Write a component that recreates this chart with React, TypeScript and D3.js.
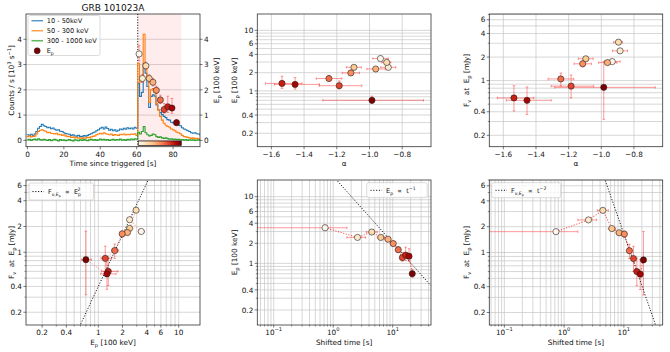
import React, { useEffect, useRef } from 'react';
import * as d3 from 'd3';

// light curves, 1 s bins (10^3 counts / s)
const softCounts = [
  0.22, 0.2, 0.24, 0.18, 0.25, 0.35, 0.48, 0.55, 0.64, 0.58,
  0.55, 0.5, 0.52, 0.46, 0.49, 0.44, 0.4, 0.42, 0.36, 0.35,
  0.3, 0.27, 0.25, 0.24, 0.2, 0.22, 0.18, 0.17, 0.2, 0.16,
  0.15, 0.19, 0.17, 0.2, 0.23, 0.26, 0.3, 0.33, 0.38, 0.42,
  0.48, 0.52, 0.45, 0.53, 0.47, 0.4, 0.44, 0.38, 0.42, 0.36,
  0.4, 0.45, 0.42, 0.48, 0.44, 0.5, 0.46, 0.49, 0.45, 0.52,
  0.48, 2.26, 1.74, 1.9, 3.05, 2.66, 2.13, 1.3, 1.74, 1.8,
  1.75, 1.4, 1.2, 1.1, 1.02, 0.95, 0.9, 0.82, 0.8, 0.72,
  0.7, 0.66, 0.63, 0.6, 0.58, 0.5, 0.45, 0.42, 0.38, 0.35,
  0.3, 0.28, 0.3, 0.26, 0.25, 0.22,
];
const midCounts = [
  0.15, 0.18, 0.14, 0.16, 0.17, 0.25, 0.35, 0.4, 0.42, 0.38,
  0.36, 0.3, 0.32, 0.28, 0.27, 0.25, 0.28, 0.22, 0.24, 0.2,
  0.22, 0.18, 0.15, 0.16, 0.12, 0.13, 0.1, 0.12, 0.09, 0.1,
  0.08, 0.1, 0.09, 0.12, 0.11, 0.14, 0.16, 0.18, 0.22, 0.25,
  0.28, 0.25, 0.3, 0.26, 0.24, 0.22, 0.25, 0.2, 0.23, 0.21,
  0.2, 0.24, 0.22, 0.25, 0.21, 0.24, 0.22, 0.25, 0.23, 0.26,
  0.2, 3.05, 2.3, 2.5, 4.2, 3.0, 2.5, 1.5, 2.0, 2.05,
  1.9, 1.47, 1.2, 0.95, 0.8, 0.68, 0.6, 0.55, 0.52, 0.45,
  0.42, 0.38, 0.32, 0.3, 0.26, 0.2, 0.15, 0.14, 0.12, 0.1,
  0.08, 0.1, 0.07, 0.08, 0.06, 0.05,
];
const hardCounts = [
  0.02, 0.04, 0.0, 0.03, 0.05, 0.02, 0.06, 0.03, 0.01, 0.04,
  0.02, 0.0, 0.03, -0.01, 0.02, 0.04, 0.01, -0.02, 0.03, 0.0,
  0.02, -0.01, 0.01, 0.03, 0.0, -0.02, 0.02, 0.01, -0.01, 0.02,
  0.0, 0.03, 0.01, -0.01, 0.02, 0.04, 0.01, 0.03, 0.0, 0.02,
  0.05, 0.02, 0.04, 0.01, 0.03, 0.0, 0.02, 0.04, 0.01, 0.03,
  0.02, 0.05, 0.01, 0.03, 0.0, 0.04, 0.02, 0.05, 0.03, 0.06,
  0.05, 0.32, 0.25, 0.35, 0.55, 0.3, 0.22, 0.18, 0.2, 0.25,
  0.22, 0.15, 0.12, 0.14, 0.1, 0.08, 0.1, 0.07, 0.05, 0.06,
  0.04, 0.05, 0.03, 0.04, 0.02, 0.03, 0.01, 0.03, 0.0, 0.02,
  0.01, 0.02, 0.0, 0.01, 0.02, 0.01,
];
const bandLabels = ['10 - 50keV', '50 - 300 keV', '300 - 1000 keV'];
const bandColors = ['#1f77b4', '#ff7f0e', '#2ca02c'];
const lcStart = -0.4;

// time-resolved spectral fits
const triggerShift = 60.6;
const shadeEnd = 84.5;
const shiftedTime = [0.73, 2.56, 4.45, 6.3, 8.35, 10.2, 12.4, 14.5, 16.5, 18.8, 21.3];
const timeLo = [0.001, 1.7, 3.6, 5.5, 7.4, 9.3, 11.3, 13.5, 15.5, 17.7, 20.2];
const timeHi = [1.7, 3.5, 5.5, 7.3, 9.3, 11.2, 13.5, 15.5, 17.5, 20.0, 22.5];
const epValues = [3.42, 2.45, 2.95, 2.45, 2.3, 1.98, 1.6, 1.22, 1.33, 1.28, 0.7];
const epLo = [3.15, 2.3, 2.8, 2.3, 2.15, 1.85, 1.46, 1.08, 1.1, 1.07, 0.62];
const epHi = [3.75, 2.6, 3.1, 2.6, 2.45, 2.15, 1.79, 1.46, 1.75, 1.66, 0.82];
const alphaValues = [-0.933, -0.885, -0.895, -1.095, -0.962, -1.114, -1.248, -1.185, -1.535, -1.455, -0.985];
const alphaLo = [-0.98, -0.931, -0.925, -1.14, -1.016, -1.167, -1.326, -1.307, -1.637, -1.582, -1.285];
const alphaHi = [-0.885, -0.839, -0.87, -1.05, -0.904, -1.061, -1.169, -1.047, -1.413, -1.307, -0.67];
const fluxValues = [1.75, 2.4, 3.1, 1.9, 1.7, 1.64, 1.05, 0.85, 0.6, 0.56, 0.82];
const fluxLo = [1.68, 2.3, 2.98, 1.8, 1.6, 1.5, 0.85, 0.6, 0.41, 0.37, 0.32];
const fluxHi = [1.83, 2.5, 3.25, 2.0, 1.8, 1.78, 1.25, 1.18, 0.86, 0.83, 1.76];

// reference power laws
const epFluxNorm = 0.4; // F = A Ep^2
const epTimeNorm = 20.3; // Ep = A / t
const fluxTimeNorm = 165; // F = A / t^2

const logLabels = [0.2, 0.4, 1, 2, 4, 6, 10];

const FONT = "'DejaVu Sans', sans-serif";
const FS = 7.3;
const LFS = 6.6;
const GRID = '#c6c6c6';
const ERR = 'rgba(255,30,30,0.5)';

type Seg = { t: string; s?: number; b?: number; dx?: number };
type Box = { l: number; t: number; w: number; h: number };
type Sel = d3.Selection<any, unknown, null, undefined>;

const mkBox = (l: number, t: number, r: number, b: number): Box => ({ l, t, w: r - l, h: b - t });
const boxLc = mkBox(26, 14, 200, 146.7);
const boxAlphaEp = mkBox(257.3, 14, 431, 146.7);
const boxAlphaF = mkBox(489.3, 14, 662.7, 146.7);
const boxEpF = mkBox(26, 180, 200, 325);
const boxTimeEp = mkBox(257.3, 180, 431, 325);
const boxTimeF = mkBox(489.3, 180, 662.7, 325);

const col = (i: number) => d3.interpolateOrRd(i / (epValues.length - 1));

function text(g: Sel, x: number, y: number, segs: Seg[], size: number, anchor = 'middle', rotate = 0) {
  const t = g
    .append('text')
    .attr('x', x)
    .attr('y', y)
    .attr('font-family', FONT)
    .attr('font-size', size)
    .attr('fill', '#111')
    .attr('text-anchor', anchor)
    .style('white-space', 'pre');
  if (rotate) t.attr('transform', `rotate(${rotate},${x},${y})`);
  segs.forEach((s) => {
    const ts = t.append('tspan').text(s.t);
    if (s.s) ts.attr('font-size', size * s.s);
    if (s.b) ts.attr('baseline-shift', `${s.b}px`);
    if (s.dx) ts.attr('dx', s.dx);
  });
  return t;
}

function logSteps(lo: number, hi: number) {
  const out: number[] = [];
  for (let d = Math.floor(Math.log10(lo)); d <= Math.ceil(Math.log10(hi)); d++) {
    for (let k = 1; k < 10; k++) {
      const v = +(k * Math.pow(10, d)).toPrecision(3);
      if (v >= lo && v <= hi) out.push(v);
    }
  }
  return out;
}

const plain = (v: number): Seg[] => [{ t: String(v) }];
const linFmt = (v: number): Seg[] => [{ t: d3.format('.1f')(v) }];
const powFmt = (v: number): Seg[] => [{ t: '10' }, { t: d3.format('d')(Math.round(Math.log10(v))), s: 0.7, b: 3.6 }];

function gridLines(g: Sel, b: Box, sx: any, sy: any, xs: number[], ys: number[]) {
  xs.forEach((v) =>
    g.append('line').attr('x1', sx(v)).attr('x2', sx(v)).attr('y1', b.t).attr('y2', b.t + b.h)
      .attr('stroke', GRID).attr('stroke-width', 0.7)
  );
  ys.forEach((v) =>
    g.append('line').attr('x1', b.l).attr('x2', b.l + b.w).attr('y1', sy(v)).attr('y2', sy(v))
      .attr('stroke', GRID).attr('stroke-width', 0.7)
  );
}

function xAxis(g: Sel, b: Box, sx: any, major: number[], fmt: (v: number) => Seg[], minor: number[] = []) {
  const y0 = b.t + b.h;
  minor.forEach((v) =>
    g.append('line').attr('x1', sx(v)).attr('x2', sx(v)).attr('y1', y0).attr('y2', y0 + 1.5)
      .attr('stroke', '#222').attr('stroke-width', 0.5)
  );
  major.forEach((v) => {
    g.append('line').attr('x1', sx(v)).attr('x2', sx(v)).attr('y1', y0).attr('y2', y0 + 2.6)
      .attr('stroke', '#222').attr('stroke-width', 0.6);
    text(g, sx(v), y0 + 10.2, fmt(v), FS);
  });
}

function yAxis(g: Sel, b: Box, sy: any, major: number[], fmt: (v: number) => Seg[], minor: number[] = [], right = false) {
  const x0 = right ? b.l + b.w : b.l;
  const d = right ? 1 : -1;
  minor.forEach((v) =>
    g.append('line').attr('x1', x0).attr('x2', x0 + d * 1.5).attr('y1', sy(v)).attr('y2', sy(v))
      .attr('stroke', '#222').attr('stroke-width', 0.5)
  );
  major.forEach((v) => {
    g.append('line').attr('x1', x0).attr('x2', x0 + d * 2.6).attr('y1', sy(v)).attr('y2', sy(v))
      .attr('stroke', '#222').attr('stroke-width', 0.6);
    text(g, x0 + d * 4, sy(v) + 2.7, fmt(v), FS, right ? 'start' : 'end');
  });
}

function frame(g: Sel, b: Box) {
  g.append('rect').attr('x', b.l).attr('y', b.t).attr('width', b.w).attr('height', b.h)
    .attr('fill', 'none').attr('stroke', '#333').attr('stroke-width', 0.8);
}

function clip(svg: Sel, id: string, b: Box) {
  svg.append('clipPath').attr('id', id).append('rect')
    .attr('x', b.l).attr('y', b.t).attr('width', b.w).attr('height', b.h);
}

function errorBars(g: Sel, sx: any, sy: any, xs: number[], ys: number[], xlo: number[] | null, xhi: number[] | null, ylo: number[] | null, yhi: number[] | null) {
  const cap = 1.3;
  xs.forEach((xv, i) => {
    const x = sx(xv);
    const y = sy(ys[i]);
    if (xlo && xhi) {
      const a = sx(xlo[i]);
      const c = sx(xhi[i]);
      g.append('line').attr('x1', a).attr('x2', c).attr('y1', y).attr('y2', y).attr('stroke', ERR).attr('stroke-width', 0.9);
      [a, c].forEach((e) =>
        g.append('line').attr('x1', e).attr('x2', e).attr('y1', y - cap).attr('y2', y + cap).attr('stroke', ERR).attr('stroke-width', 0.9)
      );
    }
    if (ylo && yhi) {
      const a = sy(ylo[i]);
      const c = sy(yhi[i]);
      g.append('line').attr('x1', x).attr('x2', x).attr('y1', a).attr('y2', c).attr('stroke', ERR).attr('stroke-width', 0.9);
      [a, c].forEach((e) =>
        g.append('line').attr('x1', x - cap).attr('x2', x + cap).attr('y1', e).attr('y2', e).attr('stroke', ERR).attr('stroke-width', 0.9)
      );
    }
  });
}

function markers(g: Sel, sx: any, sy: any, xs: number[], ys: number[]) {
  xs.forEach((xv, i) =>
    g.append('circle').attr('cx', sx(xv)).attr('cy', sy(ys[i])).attr('r', 3.1)
      .attr('fill', col(i)).attr('stroke', '#222').attr('stroke-width', 0.6)
  );
}

function connect(g: Sel, sx: any, sy: any, xs: number[], ys: number[], opacity: number) {
  const line = d3.line<number>().x((d, i) => sx(xs[i])).y((d, i) => sy(ys[i]));
  g.append('path').attr('d', line(xs)).attr('fill', 'none').attr('stroke', 'red')
    .attr('stroke-width', 1.1).attr('stroke-dasharray', '1.1,1.6').attr('opacity', opacity);
}

function modelLine(g: Sel, sx: any, sy: any, f: (x: number) => number) {
  const [a, c] = sx.domain();
  const pts = [a, c].map((x: number) => [sx(x), sy(f(x))]);
  g.append('path').attr('d', d3.line()(pts as [number, number][])).attr('fill', 'none')
    .attr('stroke', '#111').attr('stroke-width', 1).attr('stroke-dasharray', '1.1,1.7');
}

function legendBox(g: Sel, x: number, y: number, w: number, h: number) {
  g.append('rect').attr('x', x).attr('y', y).attr('width', w).attr('height', h).attr('rx', 2)
    .attr('fill', 'white').attr('fill-opacity', 0.8).attr('stroke', '#cccccc').attr('stroke-width', 0.7);
}

const epLabel: Seg[] = [{ t: 'E' }, { t: 'p', s: 0.7, b: -1.8 }, { t: ' [100 keV]' }];
const fluxLabel: Seg[] = [{ t: 'F' }, { t: 'ν', s: 0.7, b: -1.8 }, { t: '  at  E' }, { t: 'p', s: 0.7, b: -1.8 }, { t: ' [mJy]' }];
const fluxSub: Seg[] = [{ t: 'F' }, { t: 'ν,E', s: 0.7, b: -1.8 }, { t: 'p', s: 0.5, b: -3 }];

export default function App() {
  const ref = useRef<SVGSVGElement>(null);

  useEffect(() => {
    const svg = d3.select(ref.current) as Sel;
    svg.selectAll('*').remove();
    const defs = svg.append('defs');
    [['c-lc', boxLc], ['c-ae', boxAlphaEp], ['c-af', boxAlphaF], ['c-ef', boxEpF], ['c-te', boxTimeEp], ['c-tf', boxTimeF]]
      .forEach(([id, b]) => clip(defs, id as string, b as Box));
    const grad = defs.append('linearGradient').attr('id', 'orrd');
    d3.range(0, 1.01, 0.1).forEach((o) =>
      grad.append('stop').attr('offset', o).attr('stop-color', d3.interpolateOrRd(o))
    );

    // ---- light curve ----
    {
      const b = boxLc;
      const g = svg.append('g');
      const x = d3.scaleLinear([-0.8, 94.8], [b.l, b.l + b.w]);
      const y = d3.scaleLinear([-0.25, 5.0], [b.t + b.h, b.t]);
      gridLines(g, b, x, y, [], [0, 1, 2, 3, 4]);
      const d = g.append('g').attr('clip-path', 'url(#c-lc)');
      d.append('rect').attr('x', x(triggerShift)).attr('y', b.t).attr('width', x(shadeEnd) - x(triggerShift))
        .attr('height', b.h).attr('fill', 'red').attr('opacity', 0.07);
      d.append('line').attr('x1', x(triggerShift)).attr('x2', x(triggerShift)).attr('y1', b.t).attr('y2', b.t + b.h)
        .attr('stroke', '#111').attr('stroke-width', 1).attr('stroke-dasharray', '1.1,1.6');
      [softCounts, midCounts, hardCounts].forEach((arr, k) => {
        const pts: [number, number][] = arr.map((v, i) => [lcStart + i, v]);
        pts.push([lcStart + arr.length, arr[arr.length - 1]]);
        const line = d3.line().x((p) => x(p[0])).y((p) => y(p[1])).curve(d3.curveStepAfter);
        d.append('path').attr('d', line(pts)).attr('fill', 'none').attr('stroke', bandColors[k]).attr('stroke-width', 1.1);
      });
      const tAbs = shiftedTime.map((t) => t + triggerShift);
      errorBars(d, x, y, tAbs, epValues, null, null, epLo, epHi);
      markers(d, x, y, tAbs, epValues);
      g.append('rect').attr('x', x(triggerShift) + 0.5).attr('y', y(0) + 0.6).attr('width', x(shadeEnd) - x(triggerShift) - 0.5)
        .attr('height', 4.4).attr('fill', 'url(#orrd)').attr('stroke', '#111').attr('stroke-width', 0.7);
      frame(g, b);
      xAxis(g, b, x, [0, 20, 40, 60, 80], plain);
      yAxis(g, b, y, [0, 1, 2, 3, 4], plain);
      yAxis(g, b, y, [0, 1, 2, 3, 4], plain, [], true);
      text(g, b.l + b.w / 2, 10.5, [{ t: 'GRB 101023A' }], 9);
      text(g, b.l + b.w / 2, 165.8, [{ t: 'Time since triggered [s]' }], FS);
      text(g, 14.4, b.t + b.h / 2, [{ t: 'Counts / s [10' }, { t: '3', s: 0.7, b: 3 }, { t: ' s' }, { t: '−1', s: 0.7, b: 3 }, { t: ']' }], FS, 'middle', -90);
      text(g, 219.4, b.t + b.h / 2, epLabel, FS, 'middle', -90);
      legendBox(g, 28, 15.5, 72, 40);
      bandLabels.forEach((lab, k) => {
        const yy = 20.8 + k * 10;
        g.append('line').attr('x1', 31.5).attr('x2', 43).attr('y1', yy).attr('y2', yy).attr('stroke', bandColors[k]).attr('stroke-width', 1.1);
        text(g, 46.7, yy + 2.4, [{ t: lab }], LFS, 'start');
      });
      g.append('circle').attr('cx', 37.2).attr('cy', 50.8).attr('r', 3).attr('fill', col(epValues.length - 1))
        .attr('stroke', '#222').attr('stroke-width', 0.6);
      text(g, 46.7, 53.2, [{ t: 'E' }, { t: 'p', s: 0.7, b: -1.6 }], LFS, 'start');
    }

    // ---- alpha panels ----
    const alphaPanel = (b: Box, id: string, ys: number[], lo: number[], hi: number[], yDom: [number, number], yLab: Seg[], yLabX: number) => {
      const g = svg.append('g');
      const x = d3.scaleLinear([-1.686, -0.624], [b.l, b.l + b.w]);
      const y = d3.scaleLog(yDom, [b.t + b.h, b.t]);
      const xMaj = [-1.6, -1.4, -1.2, -1.0, -0.8];
      const yAll = logSteps(yDom[0], yDom[1]);
      const yMaj = logLabels.filter((v) => v >= yDom[0] && v <= yDom[1]);
      gridLines(g, b, x, y, xMaj, yAll);
      const d = g.append('g').attr('clip-path', `url(#${id})`);
      errorBars(d, x, y, alphaValues, ys, alphaLo, alphaHi, lo, hi);
      markers(d, x, y, alphaValues, ys);
      frame(g, b);
      xAxis(g, b, x, xMaj, linFmt);
      yAxis(g, b, y, yMaj, plain, yAll.filter((v) => !yMaj.includes(v)));
      text(g, b.l + b.w / 2, 165.8, [{ t: 'α' }], FS);
      text(g, yLabX, b.t + b.h / 2, yLab, FS, 'middle', -90);
    };
    alphaPanel(boxAlphaEp, 'c-ae', epValues, epLo, epHi, [0.12, 18.6], epLabel, 236.7);
    alphaPanel(boxAlphaF, 'c-af', fluxValues, fluxLo, fluxHi, [0.143, 7.1], fluxLabel, 469.4);

    // ---- log-log panels ----
    const logPanel = (
      b: Box, id: string, xDom: [number, number], yDom: [number, number],
      xs: number[], ys: number[], xlo: number[], xhi: number[], ylo: number[], yhi: number[],
      model: (v: number) => number, xMaj: number[], xFmt: (v: number) => Seg[],
      xLab: Seg[], yLab: Seg[], yLabX: number, connOpacity: number
    ) => {
      const g = svg.append('g');
      const x = d3.scaleLog(xDom, [b.l, b.l + b.w]);
      const y = d3.scaleLog(yDom, [b.t + b.h, b.t]);
      const xAll = logSteps(xDom[0], xDom[1]);
      const yAll = logSteps(yDom[0], yDom[1]);
      const yMaj = logLabels.filter((v) => v >= yDom[0] && v <= yDom[1]);
      gridLines(g, b, x, y, xAll, yAll);
      const d = g.append('g').attr('clip-path', `url(#${id})`);
      errorBars(d, x, y, xs, ys, xlo, xhi, ylo, yhi);
      modelLine(d, x, y, model);
      connect(d, x, y, xs, ys, connOpacity);
      markers(d, x, y, xs, ys);
      frame(g, b);
      xAxis(g, b, x, xMaj, xFmt, xAll.filter((v) => !xMaj.includes(v)));
      yAxis(g, b, y, yMaj, plain, yAll.filter((v) => !yMaj.includes(v)));
      text(g, b.l + b.w / 2, 344.6, xLab, FS);
      text(g, yLabX, b.t + b.h / 2, yLab, FS, 'middle', -90);
      return g;
    };

    const gEF = logPanel(boxEpF, 'c-ef', [0.126, 18.4], [0.142, 6.97], epValues, fluxValues, epLo, epHi, fluxLo, fluxHi,
      (v) => epFluxNorm * v * v, logLabels, plain, epLabel, fluxLabel, 13.8, 0.35);
    legendBox(gEF, 29, 183, 64.5, 17);
    gEF.append('line').attr('x1', 32.5).attr('x2', 44).attr('y1', 191.5).attr('y2', 191.5)
      .attr('stroke', '#111').attr('stroke-width', 1).attr('stroke-dasharray', '1.1,1.7');
    text(gEF, 48, 193.8, [...fluxSub, { t: '  ∝  E' }, { t: 'p', s: 0.7, b: -1.8 }, { t: '2', s: 0.7, b: 3.2, dx: -3.6 }], LFS, 'start');

    const gTE = logPanel(boxTimeEp, 'c-te', [0.053, 44], [0.119, 17.8], shiftedTime, epValues, timeLo, timeHi, epLo, epHi,
      (t) => epTimeNorm / t, [0.1, 1, 10], powFmt, [{ t: 'Shifted time [s]' }], epLabel, 236.7, 0.65);
    legendBox(gTE, 366.7, 182.7, 60.5, 15);
    gTE.append('line').attr('x1', 370.5).attr('x2', 382).attr('y1', 190.3).attr('y2', 190.3)
      .attr('stroke', '#111').attr('stroke-width', 1).attr('stroke-dasharray', '1.1,1.7');
    text(gTE, 386, 192.7, [{ t: 'E' }, { t: 'p', s: 0.7, b: -1.8 }, { t: '  ∝  t' }, { t: '−1', s: 0.7, b: 3.2 }], LFS, 'start');

    const gTF = logPanel(boxTimeF, 'c-tf', [0.056, 44.7], [0.143, 7.0], shiftedTime, fluxValues, timeLo, timeHi, fluxLo, fluxHi,
      (t) => fluxTimeNorm / (t * t), [0.1, 1, 10], powFmt, [{ t: 'Shifted time [s]' }], fluxLabel, 469.4, 0.65);
    legendBox(gTF, 491.7, 182.7, 69, 15);
    gTF.append('line').attr('x1', 495.5).attr('x2', 507).attr('y1', 190.3).attr('y2', 190.3)
      .attr('stroke', '#111').attr('stroke-width', 1).attr('stroke-dasharray', '1.1,1.7');
    text(gTF, 511, 192.7, [...fluxSub, { t: '  ∝  t' }, { t: '−2', s: 0.7, b: 3.2 }], LFS, 'start');
  }, []);

  return (
    <svg
      ref={ref}
      width={670}
      height={352}
      style={{ position: 'absolute', left: 0, top: 0, background: '#fff' }}
    />
  );
}
